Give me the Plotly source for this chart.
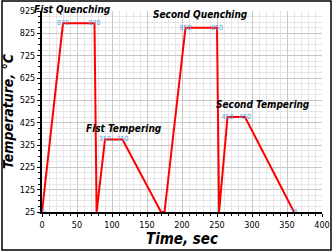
import plotly.graph_objects as go

time_s = [0, 30, 75, 78, 90, 115, 170, 175, 205, 250, 253, 265, 290, 360]
temp_c = [25, 870, 870, 25, 350, 350, 25, 25, 850, 850, 25, 450, 450, 25]
point_labels = ["25", "870", "870", "", "350", "350", "", "", "850", "850", "", "450", "450", "25"]

x_ticks = [0, 50, 100, 150, 200, 250, 300, 350, 400]
y_ticks = [25, 125, 225, 325, 425, 525, 625, 725, 825, 925]

stage_names = ["Fist Quenching", "Fist Tempering", "Second Quenching", "Second Tempering"]
stage_px = [72, 124, 200, 263]
stage_py = [9, 128, 14, 104]

W, H = 333, 252
L, R, T, B = 42, 11, 11, 40
pw, ph = W - L - R, H - T - B
NARROW = "Liberation Sans Narrow, DejaVu Sans Condensed, Arial Narrow"

fig = go.Figure()
fig.add_trace(go.Scatter(
    x=time_s, y=temp_c, mode="lines+text",
    line=dict(color="#ff0000", width=2),
    text=point_labels, textposition="middle center",
    textfont=dict(color="#5b9bd5", size=7, family=NARROW),
    cliponaxis=False, showlegend=False,
))

for name, px, py in zip(stage_names, stage_px, stage_py):
    fig.add_annotation(x=(px - L) / pw, y=(T + ph - py) / ph, xref="paper", yref="paper",
                       text="<b><i>" + name + "</i></b>", showarrow=False,
                       xanchor="center", yanchor="middle",
                       font=dict(size=10, color="black", family=NARROW))

tickfont = dict(size=9, color="black", family=NARROW)
fig.update_xaxes(range=[0, 400], tickvals=x_ticks, tickfont=tickfont, automargin=False,
                 showline=True, linecolor="black", linewidth=2, ticks="outside", ticklen=3,
                 tickcolor="black", showgrid=True, gridcolor="#c8c8c8", gridwidth=1,
                 minor=dict(dtick=10, showgrid=True, gridcolor="#e6e6e6", ticks="outside",
                            ticklen=2, tickcolor="black"),
                 zeroline=False,
                 title=dict(text="<b><i>Time, sec</i></b>", standoff=4,
                            font=dict(size=15, color="black", family=NARROW)))
fig.update_yaxes(range=[25, 925], tickvals=y_ticks, tickfont=tickfont, automargin=False,
                 showline=True, linecolor="black", linewidth=2, ticks="outside", ticklen=3,
                 tickcolor="black", showgrid=True, gridcolor="#c8c8c8", gridwidth=1,
                 minor=dict(dtick=25, showgrid=True, gridcolor="#e6e6e6", ticks="outside",
                            ticklen=2, tickcolor="black"),
                 zeroline=False,
                 title=dict(text="<b><i>Temperature, °C</i></b>", standoff=6,
                            font=dict(size=14, color="black", family=NARROW)))

fig.add_shape(type="rect", xref="paper", yref="paper",
              x0=(2 - L) / pw, x1=(331 - L) / pw, y0=(T + ph - 250) / ph, y1=(T + ph - 1) / ph,
              line=dict(color="black", width=1.5), fillcolor="rgba(0,0,0,0)", layer="below")

fig.update_layout(width=W, height=H, margin=dict(l=L, r=R, t=T, b=B),
                  paper_bgcolor="white", plot_bgcolor="white")
fig.write_html("out.html", config={"displayModeBar": False},
               post_script="document.body.style.margin='0px';")
